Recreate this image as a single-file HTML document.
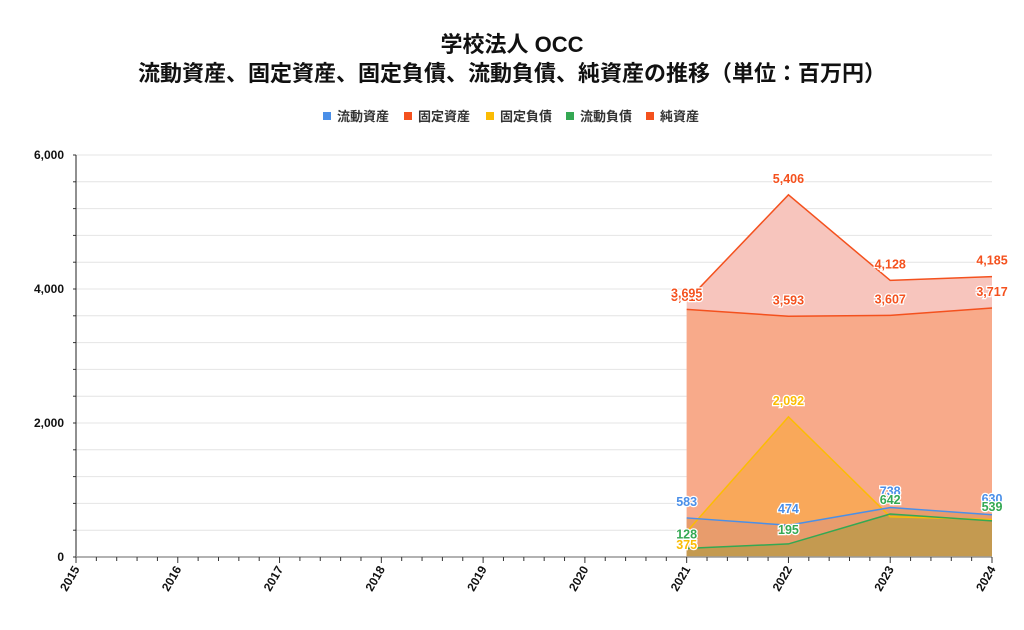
<!DOCTYPE html>
<html><head><meta charset="utf-8"><style>
body{margin:0;background:#fff;}
svg{display:block;font-family:"Liberation Sans","Noto Sans CJK JP",sans-serif;}
</style></head><body>
<svg id="c" width="1024" height="630" viewBox="0 0 1024 630">
<text x="512" y="52" text-anchor="middle" font-size="22" font-weight="bold" fill="#111">学校法人 OCC</text>
<text x="512" y="81" text-anchor="middle" font-size="22" font-weight="bold" fill="#111">流動資産、固定資産、固定負債、流動負債、純資産の推移（単位：百万円）</text>
<g id="legend"></g>
<g id="grid"></g>
<g id="areas"></g>
<g id="axes"></g>
<g id="labels"></g>
</svg>
<script>
const years=["2015","2016","2017","2018","2019","2020","2021","2022","2023","2024"];
const dataYears=[2021,2022,2023,2024];
const currentAssets=[583,474,738,630];
const fixedAssets=[3695,3593,3607,3717];
const fixedLiab=[375,2092,600,560];
const currentLiab=[128,195,642,539];
const netAssets=[3818,5406,4128,4185];
const yTicks=[0,2000,4000,6000];
const NS="http://www.w3.org/2000/svg";
const x0=76,x1=992,y0=557,y1=155,ymax=6000;
const X=yr=>x0+(yr-2015)*(x1-x0)/9;
const Y=v=>y0-v*(y0-y1)/ymax;
function mk(tag,attrs,parent){const e=document.createElementNS(NS,tag);for(const k in attrs)e.setAttribute(k,attrs[k]);parent.appendChild(e);return e;}
const grid=document.getElementById('grid'),areas=document.getElementById('areas'),axes=document.getElementById('axes'),labels=document.getElementById('labels'),legend=document.getElementById('legend');
for(let v=0;v<=ymax;v+=400){
 const l=mk('line',{x1:x0,x2:x1,y1:Y(v),y2:Y(v),stroke:'#e4e4e4','stroke-width':1},grid);
 
 
 const t=mk('line',{x1:x0-3,x2:x0,y1:Y(v),y2:Y(v),stroke:'#333'},axes);
 
 
}
yTicks.forEach(v=>{
 const t=mk('text',{x:x0-12,y:Y(v)+4,'text-anchor':'end','font-size':12,'font-weight':'bold',fill:'#111'},axes);
 t.textContent=v.toLocaleString('en-US');
 
 
});
const series=[
 {name:'純資産',vals:netAssets,fill:'#f7c5bd',stroke:'#f4511e',lab:'#f4511e',key:'net-assets'},
 {name:'固定資産',vals:fixedAssets,fill:'#f8aa8a',stroke:'#f4511e',lab:'#f4511e',key:'fixed-assets'},
 {name:'固定負債',vals:fixedLiab,fill:'#f9a85a',stroke:'#fbbc04',lab:'#fbbc04',key:'fixed-liabilities'},
 {name:'流動資産',vals:currentAssets,fill:'#e89c6c',stroke:'#4a8fe8',lab:'#4a8fe8',key:'current-assets'},
 {name:'流動負債',vals:currentLiab,fill:'#c49a50',stroke:'#34a853',lab:'#34a853',key:'current-liabilities'}
];
series.forEach(s=>{
 let d='M'+X(dataYears[0])+','+y0;
 s.vals.forEach((v,i)=>d+=' L'+X(dataYears[i])+','+Y(v));
 d+=' L'+X(dataYears[dataYears.length-1])+','+y0+' Z';
 const a=mk('path',{d:d,fill:s.fill},areas);
 
 
});
series.forEach(s=>{
 const pts=s.vals.map((v,i)=>X(dataYears[i])+','+Y(v)).join(' ');
 const l=mk('polyline',{points:pts,fill:'none',stroke:s.stroke,'stroke-width':1.5},areas);
 
 
});
mk('line',{x1:x0,x2:x0,y1:y1,y2:y0,stroke:'#222','stroke-width':1},axes);
mk('line',{x1:x0,x2:x1,y1:y0,y2:y0,stroke:'#999','stroke-width':1.5},axes);
for(let k=0;k<=45;k++){
 const x=x0+k*(x1-x0)/45;
 const t=mk('line',{x1:x,x2:x,y1:y0,y2:y0+(k%5==0?6:4),stroke:'#333'},axes);
 
 
}
years.forEach(yr=>{
 const x=X(+yr);
 const t=mk('text',{x:x+4,y:y0+12,'text-anchor':'end','font-size':12,'font-weight':'bold',fill:'#111',transform:'rotate(-60 '+(x+4)+' '+(y0+12)+')'},axes);
 t.textContent=yr;
 
 
});
function lab(txt,x,y,c){
 const t=mk('text',{x:x,y:y,'text-anchor':'middle','font-size':12.5,'font-weight':'bold',fill:c,stroke:'#fff','stroke-width':2.5,'paint-order':'stroke'},labels);
 t.textContent=txt;
 
 
}
series.forEach(s=>{
 s.vals.forEach((v,i)=>{
  if(s.key==='fixed-liabilities'&&i>1)return;
  let dy=-12;
  if(s.key==='net-assets'&&i==0)dy=0;
  if(s.key==='fixed-liabilities'&&i==0)dy=17;
  if(s.key==='current-liabilities')dy=-10;
  lab(v.toLocaleString('en-US'),X(dataYears[i]),Y(v)+dy,s.lab);
 });
});
const legItems=[['流動資産','#4a8fe8',323],['固定資産','#f4511e',404],['固定負債','#fbbc04',486],['流動負債','#34a853',566],['純資産','#f4511e',646]];
legItems.forEach(it=>{
 const g=mk('g',{},legend);
 
 
 mk('rect',{x:it[2],y:112,width:8,height:8,fill:it[1]},g);
 const t=mk('text',{x:it[2]+14,y:121,'font-size':13,'font-weight':'bold',fill:'#333'},g);
 t.textContent=it[0];
});
</script>
</body></html>
